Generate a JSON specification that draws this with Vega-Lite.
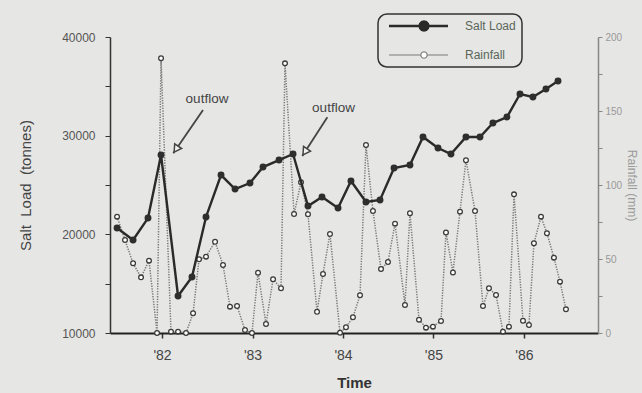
{
  "$schema": "https://vega.github.io/schema/vega-lite/v6.json",
  "width": 488,
  "height": 296,
  "autosize": {"type": "none"},
  "padding": {"left": 110, "top": 37, "right": 44, "bottom": 60},
  "background": "#e6e6e4",
  "config": {"view": {"stroke": null}, "font": "Liberation Sans", "axis": {"grid": false}},
  "datasets": {
    "salt": [
      {"t":1981.503,"load":20640},{"t":1981.680,"load":19430},{"t":1981.845,"load":21650},{"t":1981.989,"load":28040},
      {"t":1982.177,"load":13750},{"t":1982.331,"load":15680},{"t":1982.486,"load":21760},{"t":1982.652,"load":26010},
      {"t":1982.807,"load":24590},{"t":1982.972,"load":25200},{"t":1983.116,"load":26820},{"t":1983.293,"load":27530},
      {"t":1983.448,"load":28140},{"t":1983.613,"load":22870},{"t":1983.768,"load":23780},{"t":1983.945,"load":22670},
      {"t":1984.088,"load":25410},{"t":1984.254,"load":23280},{"t":1984.409,"load":23480},{"t":1984.564,"load":26720},
      {"t":1984.740,"load":27030},{"t":1984.884,"load":29870},{"t":1985.050,"load":28750},{"t":1985.193,"load":28140},
      {"t":1985.359,"load":29870},{"t":1985.514,"load":29870},{"t":1985.657,"load":31280},{"t":1985.812,"load":31890},
      {"t":1985.956,"load":34220},{"t":1986.099,"load":33920},{"t":1986.243,"load":34730},{"t":1986.376,"load":35540}
    ],
    "rain": [
      {"t":1981.503,"rain":78.6},{"t":1981.591,"rain":62.8},{"t":1981.680,"rain":47.1},{"t":1981.768,"rain":37.6},
      {"t":1981.856,"rain":48.9},{"t":1981.945,"rain":0},{"t":1981.989,"rain":185.6},{"t":1982.099,"rain":0.9},
      {"t":1982.177,"rain":0.9},{"t":1982.265,"rain":0},{"t":1982.343,"rain":13.3},{"t":1982.409,"rain":49.8},
      {"t":1982.486,"rain":51.6},{"t":1982.586,"rain":61.7},{"t":1982.674,"rain":45.9},{"t":1982.751,"rain":17.8},
      {"t":1982.829,"rain":18.2},{"t":1982.917,"rain":2.0},{"t":1982.994,"rain":0},{"t":1983.061,"rain":40.7},
      {"t":1983.149,"rain":6.1},{"t":1983.227,"rain":36.3},{"t":1983.315,"rain":30.2},{"t":1983.359,"rain":182.2},
      {"t":1983.459,"rain":80.4},{"t":1983.536,"rain":101.8},{"t":1983.613,"rain":80.2},{"t":1983.713,"rain":14.4},
      {"t":1983.779,"rain":39.9},{"t":1983.856,"rain":66.9},{"t":1983.967,"rain":0.2},{"t":1984.033,"rain":3.9},
      {"t":1984.110,"rain":10.6},{"t":1984.188,"rain":25.5},{"t":1984.254,"rain":127.0},{"t":1984.331,"rain":82.4},
      {"t":1984.420,"rain":43.2},{"t":1984.497,"rain":48.0},{"t":1984.575,"rain":73.9},{"t":1984.685,"rain":18.9},
      {"t":1984.740,"rain":80.9},{"t":1984.840,"rain":9.0},{"t":1984.917,"rain":3.6},{"t":1984.994,"rain":4.3},
      {"t":1985.083,"rain":8.1},{"t":1985.138,"rain":67.9},{"t":1985.215,"rain":40.9},{"t":1985.293,"rain":82.0},
      {"t":1985.359,"rain":116.7},{"t":1985.459,"rain":82.4},{"t":1985.547,"rain":18.2},{"t":1985.613,"rain":30.2},
      {"t":1985.691,"rain":25.7},{"t":1985.768,"rain":0.9},{"t":1985.834,"rain":4.3},{"t":1985.890,"rain":93.7},
      {"t":1985.989,"rain":8.3},{"t":1986.055,"rain":5.4},{"t":1986.110,"rain":60.6},{"t":1986.188,"rain":78.6},
      {"t":1986.254,"rain":67.4},{"t":1986.331,"rain":50.9},{"t":1986.398,"rain":34.7},{"t":1986.464,"rain":16.0}
    ],
    "arrows": [
      {"t":1982.453,"load":32600,"t2":1982.125,"load2":28210},
      {"t":1983.827,"load":31860,"t2":1983.550,"load2":27940}
    ],
    "heads": [
      {"t":1982.156,"load":28630},
      {"t":1983.580,"load":28365}
    ],
    "notes": [
      {"t":1982.497,"load":33716,"label":"outflow"},
      {"t":1983.895,"load":32804,"label":"outflow"}
    ]
  },
  "encoding": {
    "x": {
      "field": "t",
      "type": "quantitative",
      "scale": {"domain": [1981.425, 1986.818], "nice": false, "zero": false},
      "axis": {
        "title": "Time",
        "values": [1982, 1983, 1984, 1985, 1986],
        "labelExpr": "\"'\" + slice(toString(datum.value), 2)",
        "domainColor": "#222222",
        "domainWidth": 2,
        "tickColor": "#333333",
        "tickSize": 5,
        "tickWidth": 1.5,
        "labelFontSize": 14,
        "labelColor": "#444444",
        "labelPadding": 10,
        "titleFontSize": 15,
        "titleFontWeight": "bold",
        "titleColor": "#333333",
        "titlePadding": 13
      }
    }
  },
  "layer": [
    {
      "data": {"name": "rain"},
      "encoding": {
        "y": {
          "field": "rain",
          "type": "quantitative",
          "scale": {"domain": [0, 200], "nice": false, "zero": true},
          "axis": {
            "orient": "right",
            "title": "Rainfall (mm)",
            "values": [0, 25, 50, 75, 100, 125, 150, 175, 200],
            "labelExpr": "datum.value % 50 === 0 ? datum.label : ''",
            "domainColor": "#888888",
            "domainWidth": 1.5,
            "tickColor": "#888888",
            "tickSize": 4,
            "labelFontSize": 10,
            "labelColor": "#999999",
            "labelPadding": 3,
            "titleFontSize": 12,
            "titleFontWeight": "normal",
            "titleColor": "#999999",
            "titlePadding": 3
          }
        }
      },
      "layer": [
        {
          "mark": {"type": "line", "strokeDash": [1.3, 1.3], "strokeWidth": 1.5},
          "encoding": {"color": {"datum": "Rainfall"}}
        },
        {
          "mark": {"type": "point", "filled": true, "fill": "#ffffff", "stroke": "#3a3a3a", "strokeWidth": 1.3, "size": 22, "opacity": 1}
        }
      ]
    },
    {
      "data": {"name": "salt"},
      "encoding": {
        "y": {
          "field": "load",
          "type": "quantitative",
          "scale": {"domain": [10000, 40000], "nice": false, "zero": false},
          "axis": {
            "orient": "left",
            "title": "Salt\u00a0 Load\u00a0 (tonnes)",
            "values": [10000, 15000, 20000, 25000, 30000, 35000, 40000],
            "format": "d",
            "labelExpr": "datum.value % 10000 === 0 ? datum.label : ''",
            "domainColor": "#333333",
            "domainWidth": 1.5,
            "tickColor": "#333333",
            "tickSize": 5,
            "labelFontSize": 12,
            "labelColor": "#555555",
            "labelPadding": 10,
            "titleFontSize": 15,
            "titleFontWeight": "normal",
            "titleColor": "#444444",
            "titlePadding": 28
          }
        }
      },
      "layer": [
        {
          "mark": {"type": "line", "strokeWidth": 2.4},
          "encoding": {
            "color": {
              "datum": "Salt Load",
              "scale": {"domain": ["Salt Load", "Rainfall"], "range": ["#2a2a2a", "#7a7a7a"]},
              "legend": {
                "orient": "none",
                "legendX": 268,
                "legendY": -23,
                "title": null,
                "strokeColor": "#333333",
                "cornerRadius": 9,
                "padding": 6,
                "symbolSize": 100,
                "symbolType": "M-0.2,0L11.6,0M7.7,0L7.579,0.45L7.25,0.779L6.8,0.9L6.35,0.779L6.021,0.45L5.9,0L6.021,-0.45L6.35,-0.779L6.8,-0.9L7.25,-0.779L7.579,-0.45Z",
                "symbolStrokeWidth": 2.4,
                "labelOffset": 69,
                "labelFontSize": 12,
                "labelColor": "#5a665a",
                "rowPadding": 13,
                "encode": {
                  "legend": {"update": {"strokeWidth": {"value": 1.5}}},
                  "symbols": {
                    "update": {
                      "shape": {"signal": "datum.value === 'Salt Load' ? 'M-0.2,0L11.6,0M7.7,0L7.579,0.45L7.25,0.779L6.8,0.9L6.35,0.779L6.021,0.45L5.9,0L6.021,-0.45L6.35,-0.779L6.8,-0.9L7.25,-0.779L7.579,-0.45Z' : 'M-0.2,0L6.16,0M7.44,0L11.6,0M7.44,0L7.354,0.32L7.12,0.554L6.8,0.64L6.48,0.554L6.246,0.32L6.16,0L6.246,-0.32L6.48,-0.554L6.8,-0.64L7.12,-0.554L7.354,-0.32Z'"},
                      "fill": {"signal": "datum.value === 'Salt Load' ? '#2a2a2a' : '#ffffff'"},
                      "stroke": {"signal": "datum.value === 'Salt Load' ? '#2a2a2a' : '#555555'"},
                      "strokeWidth": {"signal": "datum.value === 'Salt Load' ? 2.4 : 1.1"},
                      "strokeDash": {"value": []},
                      "opacity": {"value": 1},
                      "fillOpacity": {"value": 1}
                    }
                  }
                }
              }
            }
          }
        },
        {
          "mark": {"type": "point", "filled": true, "color": "#2e2e2e", "size": 48, "opacity": 1}
        },
        {
          "data": {"name": "arrows"},
          "mark": {"type": "rule", "color": "#444444", "strokeWidth": 1.8},
          "encoding": {
            "x2": {"field": "t2"},
            "y2": {"field": "load2"}
          }
        },
        {
          "data": {"name": "heads"},
          "mark": {"type": "point", "shape": "triangle-up", "angle": 214, "size": 70, "filled": true, "fill": "#f2f2f2", "stroke": "#444444", "strokeWidth": 1.5, "opacity": 1}
        },
        {
          "data": {"name": "notes"},
          "mark": {"type": "text", "fontSize": 13.5, "color": "#444444", "align": "center", "baseline": "middle"},
          "encoding": {"text": {"field": "label"}}
        }
      ]
    }
  ],
  "resolve": {"scale": {"y": "independent"}}
}
